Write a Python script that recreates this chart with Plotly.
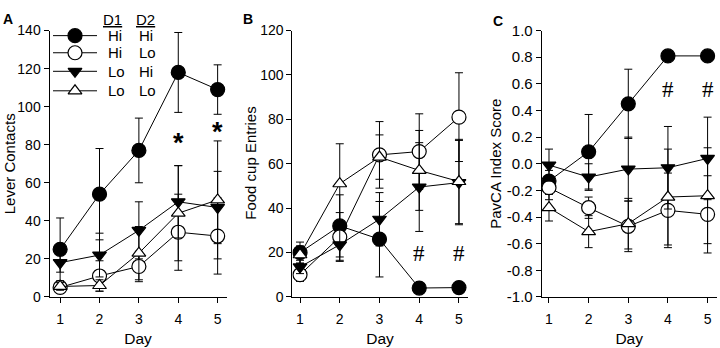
import plotly.graph_objects as go

# ---------------- data ----------------
days = [1, 2, 3, 4, 5]
group_names = ["Hi-Hi", "Hi-Lo", "Lo-Hi", "Lo-Lo"]
d1_labels = ["Hi", "Hi", "Lo", "Lo"]
d2_labels = ["Hi", "Lo", "Hi", "Lo"]

# Panel A: Lever Contacts (mean, sem)
lever_hihi = [25, 54, 77, 118, 109]
lever_hihi_err = [16.5, 24, 17, 21, 13]
lever_hilo = [5, 11, 16, 34, 32]
lever_hilo_err = [3, 8, 8, 20, 20]
lever_lohi = [18, 22, 35, 50, 47]
lever_lohi_err = [5, 11.5, 15, 19, 19]
lever_lolo = [5.5, 6, 23, 44, 51]
lever_lolo_err = [2, 3, 14, 25, 31]

# Panel B: Food cup Entries
food_hihi = [20, 32, 26, 4, 4.2]
food_hihi_err = [4.7, 14, 17, 1, 1]
food_hilo = [10, 27, 64, 65.5, 81]
food_hilo_err = [3, 11, 15, 17, 20]
food_lohi = [13.5, 23.5, 35, 49.5, 51.5]
food_lohi_err = [3, 7, 12, 20, 19]
food_lolo = [19, 51, 63, 57, 52]
food_lolo_err = [4, 18, 10, 18, 19]

# Panel C: PavCA Index Score
pavca_hihi = [-0.13, 0.09, 0.45, 0.81, 0.81]
pavca_hihi_err = [0.08, 0.28, 0.26, 0.02, 0.02]
pavca_hilo = [-0.18, -0.33, -0.47, -0.35, -0.38]
pavca_hilo_err = [0.09, 0.08, 0.19, 0.28, 0.29]
pavca_lohi = [-0.01, -0.10, -0.04, -0.03, 0.04]
pavca_lohi_err = [0.12, 0.10, 0.24, 0.31, 0.31]
pavca_lolo = [-0.33, -0.51, -0.45, -0.25, -0.24]
pavca_lolo_err = [0.10, 0.12, 0.19, 0.36, 0.36]

lever_ticks = [0, 20, 40, 60, 80, 100, 120, 140]
food_ticks = [0, 20, 40, 60, 80, 100, 120]
pavca_ticks = [-1.0, -0.8, -0.6, -0.4, -0.2, 0.0, 0.2, 0.4, 0.6, 0.8, 1.0]
pavca_ticktext = ["-1.0", "-0.8", "-0.6", "-0.4", "-0.2", "0.0", "0.2", "0.4", "0.6", "0.8", "1.0"]

# significance markers
lever_sig_days = [4, 5]
lever_sig_y = [81, 86.5]
food_sig_days = [4, 5]
food_sig_y = [19.5, 19.5]
pavca_sig_days = [4, 5]
pavca_sig_y = [0.56, 0.56]

# ---------------- style ----------------
FONT = "Liberation Sans, Arial, sans-serif"
SERIF = "Liberation Serif, Times New Roman, serif"
W, H = 720, 348
styles = [
    dict(symbol="circle", color="black", size=14),
    dict(symbol="circle", color="white", size=14),
    dict(symbol="triangle-down", color="black", size=12),
    dict(symbol="triangle-up", color="white", size=12),
]

panels = [
    dict(x="x", y="y", series=[(lever_hihi, lever_hihi_err), (lever_hilo, lever_hilo_err),
                               (lever_lohi, lever_lohi_err), (lever_lolo, lever_lolo_err)]),
    dict(x="x2", y="y2", series=[(food_hihi, food_hihi_err), (food_hilo, food_hilo_err),
                                 (food_lohi, food_lohi_err), (food_lolo, food_lolo_err)]),
    dict(x="x3", y="y3", series=[(pavca_hihi, pavca_hihi_err), (pavca_hilo, pavca_hilo_err),
                                 (pavca_lohi, pavca_lohi_err), (pavca_lolo, pavca_lolo_err)]),
]

fig = go.Figure()
for p in panels:
    for (vals, errs), st, name in zip(p["series"], styles, group_names):
        fig.add_trace(go.Scatter(
            x=days, y=vals, name=name, xaxis=p["x"], yaxis=p["y"],
            mode="lines+markers", showlegend=False,
            line=dict(color="black", width=1),
            marker=dict(symbol=st["symbol"], color=st["color"], size=st["size"],
                        line=dict(color="black", width=1.2)),
            error_y=dict(type="data", array=errs, symmetric=True, color="black",
                         thickness=1, width=4),
        ))

# ---------------- custom legend (pixel coordinate overlay) ----------------
leg_line_x = [53, 97]
leg_marker_x = 75
leg_rows_y = [28, 46, 65.5, 86]
leg_col1_x = 106
leg_col2_x = 137
for st, ry, name in zip(styles, leg_rows_y, group_names):
    fig.add_trace(go.Scatter(x=leg_line_x, y=[ry, ry], xaxis="x4", yaxis="y4", mode="lines",
                             line=dict(color="black", width=1), showlegend=False, hoverinfo="skip"))
    fig.add_trace(go.Scatter(x=[leg_marker_x], y=[ry], xaxis="x4", yaxis="y4", mode="markers",
                             marker=dict(symbol=st["symbol"], color=st["color"], size=st["size"],
                                         line=dict(color="black", width=1.2)),
                             showlegend=False, name=name, hoverinfo="skip"))

annotations = []
for d1, d2, ry in zip(d1_labels, d2_labels, leg_rows_y):
    annotations.append(dict(x=leg_col1_x, y=ry, xref="x4", yref="y4", text=d1, showarrow=False,
                            xanchor="left", yanchor="middle", font=dict(size=15, family=FONT, color="black")))
    annotations.append(dict(x=leg_col2_x, y=ry, xref="x4", yref="y4", text=d2, showarrow=False,
                            xanchor="left", yanchor="middle", font=dict(size=15, family=FONT, color="black")))
annotations.append(dict(x=112, y=11, xref="x4", yref="y4", text="<u>D1</u>", showarrow=False,
                        xanchor="center", yanchor="middle", font=dict(size=15, family=FONT, color="black")))
annotations.append(dict(x=145, y=11, xref="x4", yref="y4", text="<u>D2</u>", showarrow=False,
                        xanchor="center", yanchor="middle", font=dict(size=15, family=FONT, color="black")))

# panel letters
for letter, lx, ly in [("A", 8, 11), ("B", 248, 11), ("C", 498, 13)]:
    annotations.append(dict(x=lx, y=ly, xref="x4", yref="y4", text="<b>%s</b>" % letter, showarrow=False,
                            xanchor="center", yanchor="middle", font=dict(size=14, family=FONT, color="black")))

# y-axis titles
for title, tx in [("Lever Contacts", 9.5), ("Food cup Entries", 251), ("PavCA Index Score", 496)]:
    annotations.append(dict(x=tx, y=162.7, xref="x4", yref="y4", text=title, textangle=-90, showarrow=False,
                            xanchor="center", yanchor="middle", font=dict(size=15, family=FONT, color="black")))

# significance symbols
for d, sy in zip(lever_sig_days, lever_sig_y):
    annotations.append(dict(x=d, y=sy, xref="x", yref="y", text="<b>*</b>", showarrow=False,
                            font=dict(size=27, family=FONT, color="black")))
for d, sy in zip(food_sig_days, food_sig_y):
    annotations.append(dict(x=d, y=sy, xref="x2", yref="y2", text="#", showarrow=False,
                            font=dict(size=23, family=SERIF, color="black")))
for d, sy in zip(pavca_sig_days, pavca_sig_y):
    annotations.append(dict(x=d, y=sy, xref="x3", yref="y3", text="#", showarrow=False,
                            font=dict(size=23, family=SERIF, color="black")))

ydom = [(H - 302.7) / H, (H - 22.7) / H]
common_x = dict(showline=True, linecolor="black", linewidth=1, ticks="outside", ticklen=5,
                tickcolor="black", tickwidth=1, tickvals=days, showgrid=False, zeroline=False,
                ticklabelstandoff=4,
                tickfont=dict(size=14, family=FONT, color="black"),
                title=dict(text="Day", font=dict(size=15.5, family=FONT, color="black"), standoff=7))
common_y = dict(showline=True, linecolor="black", linewidth=1, ticks="outside", ticklen=5,
                tickcolor="black", tickwidth=1, showgrid=False, zeroline=False, domain=ydom,
                tickfont=dict(size=14, family=FONT, color="black"))

fig.update_layout(
    width=W, height=H, margin=dict(l=0, r=0, t=0, b=0),
    paper_bgcolor="white", plot_bgcolor="rgba(0,0,0,0)",
    font=dict(family=FONT, color="black"),
    xaxis=dict(common_x, domain=[49.5 / W, 226.7 / W], range=[0.73, 5.23], anchor="y"),
    yaxis=dict(common_y, range=[0, 140], tickvals=lever_ticks, anchor="x"),
    xaxis2=dict(common_x, domain=[292.3 / W, 467.7 / W], range=[0.806, 5.22], anchor="y2"),
    yaxis2=dict(common_y, range=[0, 120], tickvals=food_ticks, anchor="x2"),
    xaxis3=dict(common_x, domain=[541.7 / W, 716.7 / W], range=[0.816, 5.23], anchor="y3"),
    yaxis3=dict(common_y, range=[-1.0, 1.0], tickvals=pavca_ticks, ticktext=pavca_ticktext, anchor="x3",
                tickfont=dict(size=15, family=FONT, color="black")),
    xaxis4=dict(domain=[0, 1], range=[0, W], visible=False, anchor="y4", fixedrange=True),
    yaxis4=dict(domain=[0, 1], range=[H, 0], visible=False, anchor="x4", fixedrange=True),
    annotations=annotations,
    showlegend=False,
)

fig.write_html("out.html")
